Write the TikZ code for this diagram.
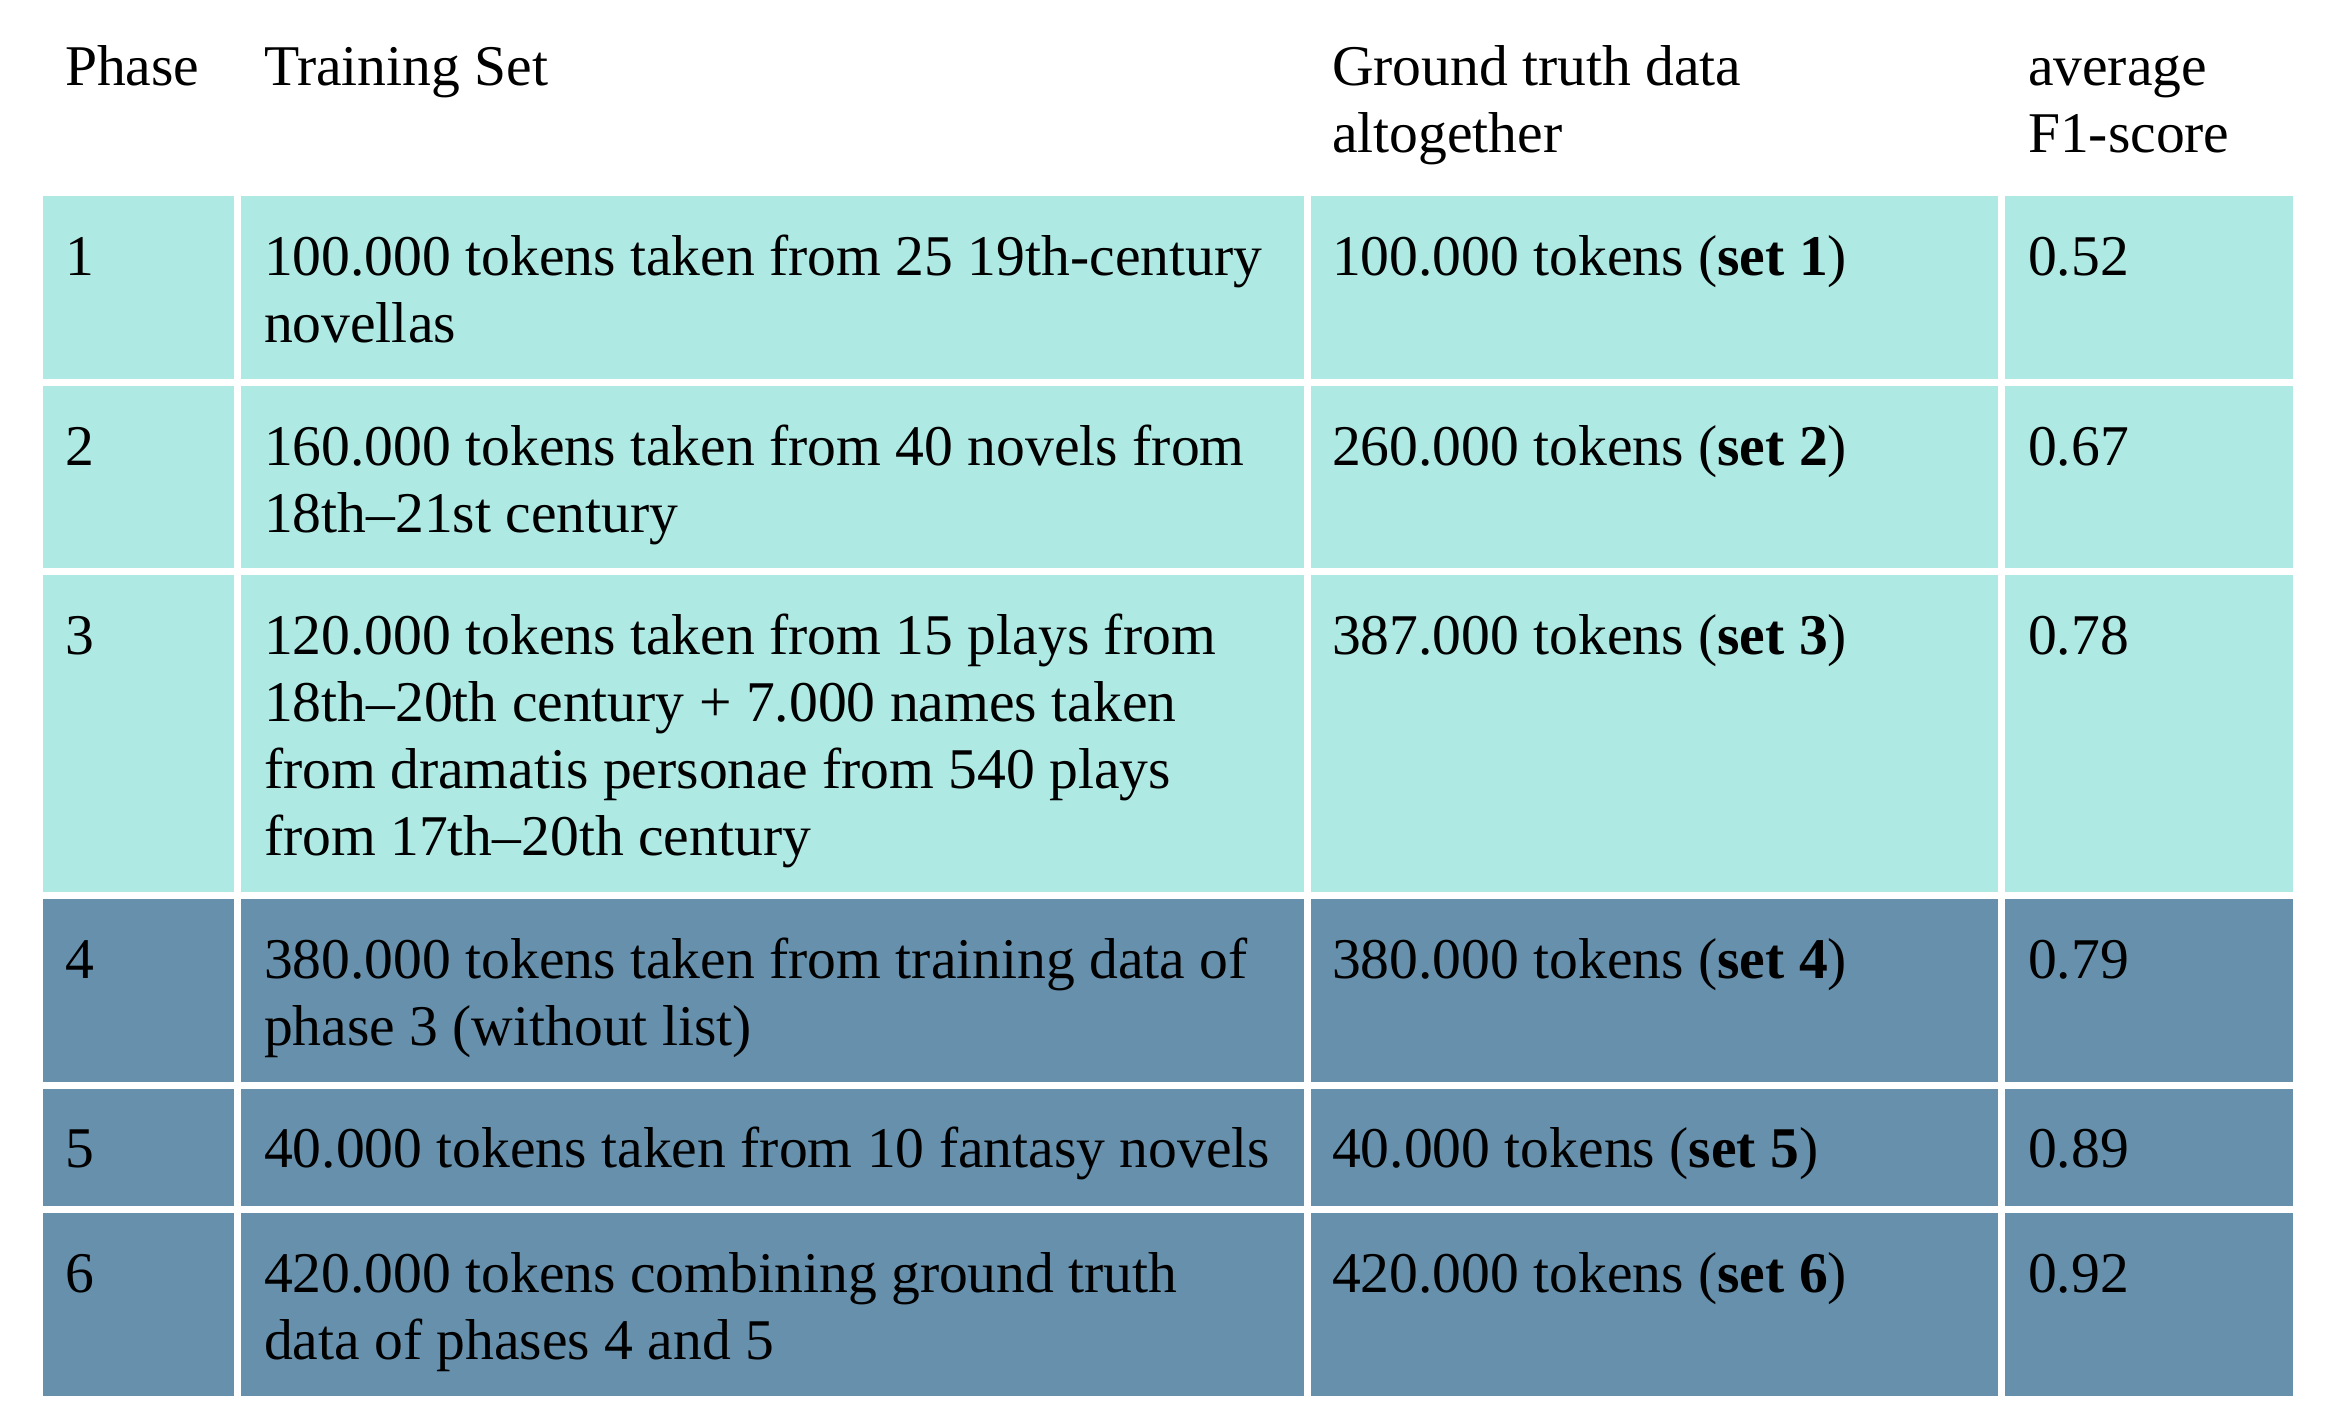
\documentclass[tikz,border=0pt]{standalone}
\usepackage{fontspec}
\setmainfont{Liberation Serif}
\definecolor{lightc}{HTML}{AEE9E3}
\definecolor{darkc}{HTML}{6690AB}
\newcommand\ml[1]{\begin{tabular}[t]{@{}l@{}}#1\end{tabular}}
\begin{document}
\begin{tikzpicture}[x=1pt,y=-1pt,
  txt/.style={anchor=base west, inner sep=0pt, outer sep=0pt, font=\fontsize{57.6}{67}\selectfont}]
\useasboundingbox[fill=white] (0,0) rectangle (2326,1414);
% light rows
\foreach \t/\b in {196/379,386/568,575/892}{
  \fill[lightc] (43,\t) rectangle (234,\b);
  \fill[lightc] (241,\t) rectangle (1304,\b);
  \fill[lightc] (1311,\t) rectangle (1998,\b);
  \fill[lightc] (2005,\t) rectangle (2293,\b);
}
% dark rows
\foreach \t/\b in {899/1082,1089/1206,1213/1396}{
  \fill[darkc] (43,\t) rectangle (234,\b);
  \fill[darkc] (241,\t) rectangle (1304,\b);
  \fill[darkc] (1311,\t) rectangle (1998,\b);
  \fill[darkc] (2005,\t) rectangle (2293,\b);
}
% header
\node[txt] (h1) at (65,85) {Phase};
\node[txt] (h2) at (264,85) {Training Set};
\node[txt] (h3) at (1332,85) {\ml{Ground truth data\\altogether}};
\node[txt] (h4) at (2028,85) {\ml{average\\F1-score}};
% row 1
\node[txt] (p1) at (65,275) {1};
\node[txt] (t1) at (264,275) {\ml{100.000 tokens taken from 25 19th-century\\novellas}};
\node[txt] (g1) at (1332,275) {100.000 tokens (\textbf{set 1})};
\node[txt] (f1) at (2028,275) {0.52};
% row 2
\node[txt] (p2) at (65,465) {2};
\node[txt] (t2) at (264,465) {\ml{160.000 tokens taken from 40 novels from\\18th–21st century}};
\node[txt] (g2) at (1332,465) {260.000 tokens (\textbf{set 2})};
\node[txt] (f2) at (2028,465) {0.67};
% row 3
\node[txt] (p3) at (65,654) {3};
\node[txt] (t3) at (264,654) {\ml{120.000 tokens taken from 15 plays from\\18th–20th century + 7.000 names taken\\from dramatis personae from 540 plays\\from 17th–20th century}};
\node[txt] (g3) at (1332,654) {387.000 tokens (\textbf{set 3})};
\node[txt] (f3) at (2028,654) {0.78};
% row 4
\node[txt] (p4) at (65,978) {4};
\node[txt] (t4) at (264,978) {\ml{380.000 tokens taken from training data of\\phase 3 (without list)}};
\node[txt] (g4) at (1332,978) {380.000 tokens (\textbf{set 4})};
\node[txt] (f4) at (2028,978) {0.79};
% row 5
\node[txt] (p5) at (65,1167) {5};
\node[txt] (t5) at (264,1167) {40.000 tokens taken from 10 fantasy novels};
\node[txt] (g5) at (1332,1167) {40.000 tokens (\textbf{set 5})};
\node[txt] (f5) at (2028,1167) {0.89};
% row 6
\node[txt] (p6) at (65,1292) {6};
\node[txt] (t6) at (264,1292) {\ml{420.000 tokens combining ground truth\\data of phases 4 and 5}};
\node[txt] (g6) at (1332,1292) {420.000 tokens (\textbf{set 6})};
\node[txt] (f6) at (2028,1292) {0.92};
\end{tikzpicture}
\end{document}
